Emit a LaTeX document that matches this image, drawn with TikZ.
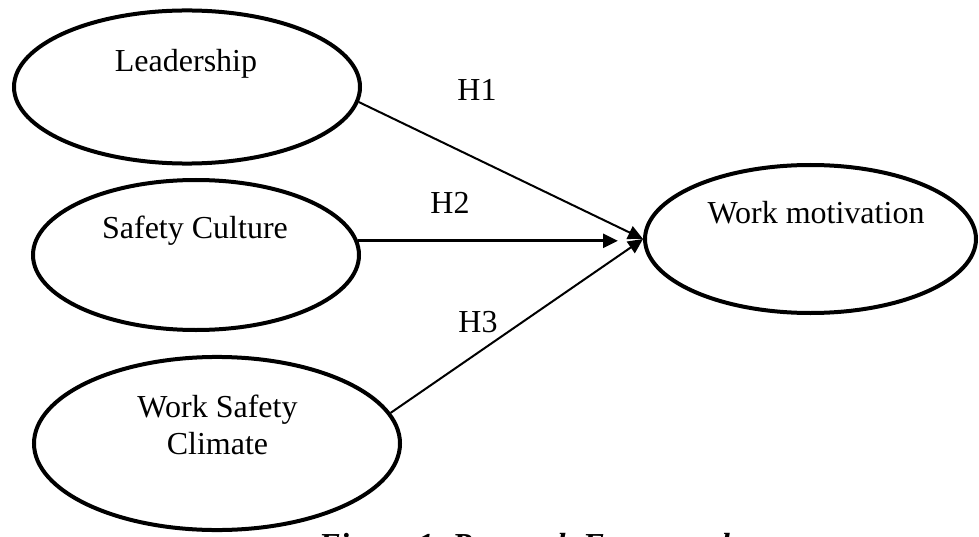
\documentclass[tikz,border=0pt]{standalone}
\usepackage{fontspec}
\setmainfont{Liberation Serif}
\usetikzlibrary{arrows.meta,shapes.geometric}
\tikzset{
  construct/.style={ellipse,draw,line width=1.5pt,inner sep=0pt},
  construct text/.style={font=\fontsize{12}{14}\selectfont,align=center,inner sep=0pt},
  hyp edge/.style={-{Triangle[length=5.6pt,width=5.2pt]},line width=0.75pt},
  hyp main/.style={hyp edge,line width=1.1pt},
  hyp label/.style={font=\fontsize{12}{14}\selectfont,inner sep=0pt,anchor=base},
}

\begin{document}
\begin{tikzpicture}[x=0.375pt,y=0.375pt]
  \clip (0,0) rectangle (979,536);
  % constructs
  \node[construct,minimum width=129.75pt,minimum height=57.4pt] (lead) at (187,449) {};
  \node[construct,minimum width=122.25pt,minimum height=56.25pt] (safety) at (196,281) {};
  \node[construct,minimum width=137.25pt,minimum height=64.9pt] (climate) at (217,92.5) {};
  \node[construct,minimum width=124.1pt,minimum height=55.5pt] (motiv) at (810.5,297) {};
  \node[construct text,anchor=base] (leadtxt) at (186,464) {Leadership};
  \node[construct text,anchor=base] (safetytxt) at (195,298) {Safety Culture};
  \node[construct text] (climatetxt) at (217.5,111) {Work Safety\\Climate};
  \node[construct text,anchor=base] (motivtxt) at (816,313) {Work motivation};
  % hypotheses
  \coordinate (h2tip) at (618,294);
  \draw[hyp edge] (lead.-5) -- (motiv.west);
  \draw[hyp main] (safety.5) -- (safety.5 -| h2tip);
  \draw[hyp edge] (climate.10) -- (motiv.west);
  \node[hyp label] (h1) at (477,435) {H1};
  \node[hyp label] (h2) at (450,323) {H2};
  \node[hyp label] (h3) at (478,204) {H3};
  \node[font=\fontsize{12}{14}\selectfont\bfseries\itshape,inner sep=0pt,anchor=base] (caption) at (528,-19) {Figure 1. Research Framework};
\end{tikzpicture}
\end{document}
